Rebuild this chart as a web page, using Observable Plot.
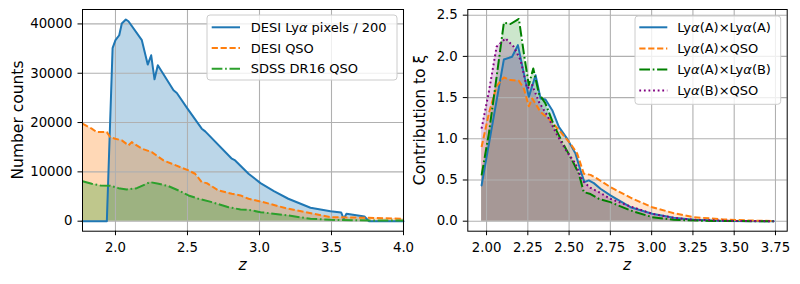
<!DOCTYPE html>
<html><head><meta charset="utf-8">
<script src="https://cdn.jsdelivr.net/npm/d3@7"></script>
<script src="https://cdn.jsdelivr.net/npm/@observablehq/plot@0.6"></script>
<style>
body{margin:0;background:#fff;}
#wrap{position:relative;width:800px;height:284px;display:flex;background:#fff;}
#wrap svg{display:block;font-family:"DejaVu Sans",sans-serif;}
</style></head><body><div id="wrap"></div>
<script>
// ---------- Left panel data ----------
const lyaZ = [1.771,1.94,1.98,2.0,2.026,2.044,2.072,2.09,2.183,2.224,2.248,2.271,2.294,2.403,2.426,2.5,2.599,2.623,2.808,2.831,2.924,3.007,3.1,3.2,3.354,3.493,3.567,3.585,3.604,3.729,3.759,4.0];
const lyaN = [0,0,35100,36700,37700,40100,40900,40550,36700,31760,33640,28770,31610,26540,25990,22820,18760,18210,12670,12320,9620,7720,6090,4550,2720,2030,1770,490,1500,950,0,0];
const desiZ = [1.771,1.835,1.87,1.94,1.963,1.998,2.044,2.09,2.113,2.183,2.252,2.333,2.391,2.507,2.553,2.599,2.634,2.715,2.808,2.868,2.924,3.007,3.2,3.493,3.748,4.0];
const desiN = [19800,18760,18070,18070,17060,16730,16390,15370,16040,14700,14010,12320,11650,10290,9620,7920,7720,6230,5560,5220,4550,4000,2520,810,690,490];
const sdssZ = [1.771,1.835,1.894,1.963,2.021,2.078,2.148,2.241,2.299,2.368,2.438,2.507,2.576,2.669,2.785,2.868,2.924,3.007,3.2,3.354,3.493,3.79,4.0];
const sdssN = [8100,7590,7250,7190,6700,6440,6700,7920,7590,7110,6230,5220,4550,3860,2840,2380,2310,1830,1160,490,280,140,140];
const leftXTicks = [2.0,2.5,3.0,3.5,4.0];
const leftYTicks = [0,10000,20000,30000,40000];
const leftLabels = ["DESI Lyα pixels / 200","DESI QSO","SDSS DR16 QSO"];

// ---------- Right panel data ----------
const aaZ = [1.97,2.105,2.155,2.19,2.256,2.297,2.327,2.357,2.398,2.438,2.488,2.539,2.569,2.593,2.619,2.65,2.69,2.75,2.872,3.003,3.134,3.255,3.436,3.74];
const aaV = [0.434,1.963,1.995,2.137,1.509,1.772,1.489,1.477,1.347,1.144,1.002,0.82,0.617,0.474,0.495,0.462,0.394,0.313,0.17,0.09,0.041,0.017,0.003,0];
const aqZ = [1.97,2.014,2.061,2.105,2.145,2.196,2.226,2.256,2.277,2.327,2.387,2.448,2.508,2.549,2.589,2.63,2.67,2.75,2.872,3.003,3.134,3.255,3.436,3.6,3.74];
const aqV = [0.9,1.307,1.639,1.745,1.712,1.703,1.611,1.395,1.489,1.326,1.225,1.083,0.942,0.82,0.577,0.562,0.516,0.414,0.285,0.17,0.097,0.049,0.021,0.008,0.002];
const abZ = [1.97,2.014,2.061,2.105,2.145,2.196,2.226,2.256,2.283,2.317,2.357,2.408,2.458,2.519,2.559,2.589,2.63,2.68,2.75,2.872,3.003,3.134,3.37,3.74];
const abV = [0.556,1.063,1.752,2.409,2.393,2.454,2.036,1.651,1.854,1.55,1.428,1.164,0.961,0.738,0.577,0.353,0.329,0.272,0.231,0.13,0.049,0.017,0.002,0];
const bqZ = [1.97,2.014,2.061,2.115,2.165,2.206,2.246,2.277,2.317,2.367,2.428,2.488,2.539,2.579,2.63,2.68,2.75,2.872,3.003,3.134,3.255,3.5,3.74];
const bqV = [1.124,1.569,2.117,2.219,2.117,1.955,1.611,1.651,1.448,1.286,1.043,0.839,0.698,0.495,0.404,0.353,0.272,0.179,0.09,0.041,0.017,0.003,0];
const rightXTicks = [2.0,2.25,2.5,2.75,3.0,3.25,3.5,3.75];
const rightYTicks = [0,0.5,1.0,1.5,2.0,2.5];
const rightLabels = ["Lyα(A)×Lyα(A)","Lyα(A)×QSO","Lyα(A)×Lyα(B)","Lyα(B)×QSO"];

const rows = (zs, vs) => zs.map((z, i) => ({z, v: vs[i]}));
const GRID = {stroke: "#b0b0b0", strokeOpacity: 1, strokeWidth: 1.1};
const LW = 2;
const DASH = "6.2,2.7", DASHDOT = "10.7,2.7,1.7,2.7", DOT = "1.8,2.8";
const TICKFONT = 13.3;

const left = Plot.plot({
  width: 410, height: 284, marginLeft: 82, marginRight: 7, marginTop: 9, marginBottom: 53.3,
  x: {domain: [1.771, 4.0]}, y: {domain: [-2030, 42925]},
  style: {fontFamily: "DejaVu Sans", fontSize: "13px", color: "black", background: "none", overflow: "visible"},
  marks: [
    Plot.areaY(rows(lyaZ, lyaN), {x: "z", y: "v", fill: "#1f77b4", fillOpacity: 0.3}),
    Plot.areaY(rows(desiZ, desiN), {x: "z", y: "v", fill: "#ff7f0e", fillOpacity: 0.3}),
    Plot.areaY(rows(sdssZ, sdssN), {x: "z", y: "v", fill: "#2ca02c", fillOpacity: 0.3}),
    Plot.gridX({ticks: leftXTicks, ...GRID}),
    Plot.gridY({ticks: leftYTicks, ...GRID}),
    Plot.lineY(rows(lyaZ, lyaN), {x: "z", y: "v", stroke: "#1f77b4", strokeWidth: LW}),
    Plot.lineY(rows(desiZ, desiN), {x: "z", y: "v", stroke: "#ff7f0e", strokeWidth: LW, strokeDasharray: DASH, strokeLinecap: "butt"}),
    Plot.lineY(rows(sdssZ, sdssN), {x: "z", y: "v", stroke: "#2ca02c", strokeWidth: LW, strokeDasharray: DASHDOT, strokeLinecap: "butt"}),
    Plot.frame({stroke: "black", strokeWidth: 1}),
    Plot.axisX({ticks: leftXTicks, tickFormat: d => d.toFixed(1), tickSize: 4.5, tickPadding: 6.5, label: null, fontSize: TICKFONT}),
    Plot.axisY({ticks: leftYTicks, tickFormat: d => String(d), tickSize: 4.5, tickPadding: 5.5, label: null, fontSize: TICKFONT})
  ]
});

const right = Plot.plot({
  width: 390, height: 284, marginLeft: 57.3, marginRight: 13.3, marginTop: 9, marginBottom: 53.3,
  x: {domain: [1.8865, 3.821]}, y: {domain: [-0.1215, 2.569]},
  style: {fontFamily: "DejaVu Sans", fontSize: "13px", color: "black", background: "none", overflow: "visible"},
  marks: [
    Plot.areaY(rows(aaZ, aaV), {x: "z", y: "v", fill: "#1f77b4", fillOpacity: 0.2}),
    Plot.areaY(rows(aqZ, aqV), {x: "z", y: "v", fill: "#ff7f0e", fillOpacity: 0.2}),
    Plot.areaY(rows(abZ, abV), {x: "z", y: "v", fill: "#008000", fillOpacity: 0.2}),
    Plot.areaY(rows(bqZ, bqV), {x: "z", y: "v", fill: "#800080", fillOpacity: 0.2}),
    Plot.gridX({ticks: rightXTicks, ...GRID}),
    Plot.gridY({ticks: rightYTicks, ...GRID}),
    Plot.lineY(rows(aaZ, aaV), {x: "z", y: "v", stroke: "#1f77b4", strokeWidth: LW}),
    Plot.lineY(rows(aqZ, aqV), {x: "z", y: "v", stroke: "#ff7f0e", strokeWidth: LW, strokeDasharray: DASH, strokeLinecap: "butt"}),
    Plot.lineY(rows(abZ, abV), {x: "z", y: "v", stroke: "#008000", strokeWidth: LW, strokeDasharray: DASHDOT, strokeLinecap: "butt"}),
    Plot.lineY(rows(bqZ, bqV), {x: "z", y: "v", stroke: "#800080", strokeWidth: LW, strokeDasharray: DOT, strokeLinecap: "butt"}),
    Plot.frame({stroke: "black", strokeWidth: 1}),
    Plot.axisX({ticks: rightXTicks, tickFormat: d => d.toFixed(2), tickSize: 4.5, tickPadding: 6.5, label: null, fontSize: TICKFONT}),
    Plot.axisY({ticks: rightYTicks, tickFormat: d => d.toFixed(1), tickSize: 4.5, tickPadding: 5.5, label: null, fontSize: TICKFONT})
  ]
});
left.style.position = "relative";
left.style.zIndex = "1";

function addAxisLabels(svg, yLabel, yx, xx) {
  const g = d3.select(svg).append("g").attr("font-family", "DejaVu Sans").attr("font-size", 15.5)
    .attr("fill", "black").attr("text-anchor", "middle");
  g.append("text").attr("transform", `translate(${yx},120) rotate(-90)`).attr("dy", "0.32em").text(yLabel);
  g.append("text").attr("x", xx).attr("y", 265).attr("dy", "0.32em").attr("font-style", "italic").text("z");
}
addAxisLabels(left, "Number counts", 17.7, 242.5);
addAxisLabels(right, "Contribution to ξ", 10.5, 217);

function addLegend(svg, box, lineX, textX, rowY, rowDy, labels, styles) {
  const g = d3.select(svg).append("g").attr("font-family", "DejaVu Sans").attr("font-size", 13).attr("text-anchor", "start");
  g.append("rect").attr("x", box[0]).attr("y", box[1]).attr("width", box[2]).attr("height", box[3])
    .attr("rx", 3).attr("fill", "white").attr("fill-opacity", 0.8).attr("stroke", "#cccccc").attr("stroke-width", 1);
  labels.forEach((lab, i) => {
    const y = rowY + i * rowDy, s = styles[i];
    g.append("line").attr("x1", lineX[0]).attr("x2", lineX[1]).attr("y1", y).attr("y2", y)
      .attr("stroke", s.c).attr("stroke-width", LW).attr("stroke-dasharray", s.d || null).attr("stroke-linecap", "butt");
    const t = g.append("text").attr("x", textX).attr("y", y).attr("dy", "0.36em").attr("fill", "black").attr("text-anchor", "start");
    lab.split(/(α)/).forEach(part => {
      if (!part) return;
      const ts = t.append("tspan").text(part);
      if (part === "α") ts.attr("font-style", "italic");
    });
  });
}
addLegend(left, [207, 15, 190, 65], [211.7, 240], 250.7, 27.3, 20.7, leftLabels,
  [{c: "#1f77b4"}, {c: "#ff7f0e", d: DASH}, {c: "#2ca02c", d: DASHDOT}]);
addLegend(right, [225, 16, 145.7, 88.3], [229.3, 257.3], 267.3, 27.3, 21.1, rightLabels,
  [{c: "#1f77b4"}, {c: "#ff7f0e", d: DASH}, {c: "#008000", d: DASHDOT}, {c: "#800080", d: DOT}]);

document.getElementById("wrap").append(left, right);
</script></body></html>
